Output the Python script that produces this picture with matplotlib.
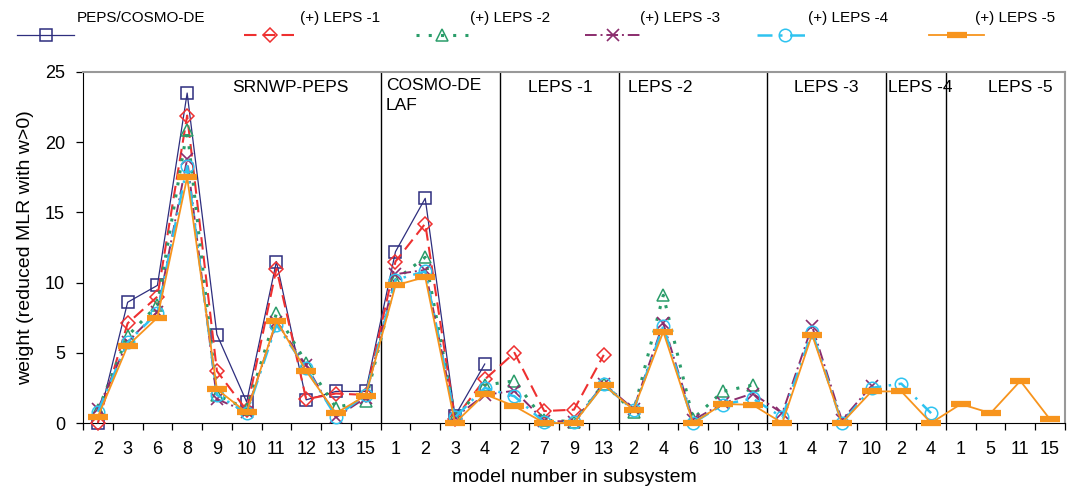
import numpy as np
import matplotlib
matplotlib.use("Agg")
import matplotlib.pyplot as plt
from matplotlib.lines import Line2D

plt.rcParams["font.family"] = ["Liberation Sans", "DejaVu Sans"]

nan = np.nan

# model numbers along the x axis, grouped by subsystem
modelos = ["2", "3", "6", "8", "9", "10", "11", "12", "13", "15",
           "1", "2", "3", "4",
           "2", "7", "9", "13",
           "2", "4", "6", "10", "13",
           "1", "4", "7", "10",
           "2", "4",
           "1", "5", "11", "15"]

grupos = ["SRNWP-PEPS", "COSMO-DE\nLAF", "LEPS -1", "LEPS -2", "LEPS -3", "LEPS -4", "LEPS -5"]
tam_grupos = [10, 4, 4, 5, 4, 2, 4]

peps = [0.0, 8.6, 9.8, 23.5, 6.3, 1.5, 11.5, 1.65, 2.25, 2.25,
        12.2, 16.0, 0.5, 4.2] + [nan] * 19
leps1 = [0.0, 7.1, 9.0, 21.9, 3.7, 0.9, 11.0, 1.7, 2.1, 2.0,
         11.5, 14.2, 0.3, 3.1,
         5.0, 0.85, 0.95, 4.85] + [nan] * 15
leps2 = [0.9, 6.2, 8.4, 20.9, 2.0, 1.0, 7.8, 4.3, 1.1, 1.6,
         10.2, 11.8, 0.4, 2.7,
         3.0, 0.2, 0.1, 2.8,
         0.8, 9.1, 0.3, 2.25, 2.7] + [nan] * 10
leps3 = [1.0, 5.8, 7.9, 18.8, 1.7, 0.8, 7.2, 4.1, 0.4, 1.8,
         10.6, 10.9, 0.4, 2.0,
         2.3, 0.15, 0.1, 2.8,
         1.0, 7.1, 0.2, 1.4, 2.1,
         0.7, 6.9, 0.2, 2.65] + [nan] * 6
leps4 = [0.8, 5.75, 7.85, 18.3, 2.0, 0.7, 7.0, 3.9, 0.45, 2.0,
         10.2, 10.8, 0.4, 2.5,
         1.9, 0.05, 0.05, 2.75,
         0.9, 6.9, 0.0, 1.3, 1.75,
         0.4, 6.5, 0.0, 2.5,
         2.8, 0.7] + [nan] * 4
leps5 = [0.45, 5.5, 7.5, 17.5, 2.4, 0.75, 7.3, 3.7, 0.7, 1.95,
         9.8, 10.4, 0.0, 2.05,
         1.2, 0.0, 0.0, 2.7,
         0.95, 6.5, 0.0, 1.35, 1.3,
         0.0, 6.3, 0.0, 2.25,
         2.25, 0.0,
         1.35, 0.7, 3.0, 0.25]

series = [
    ("PEPS/COSMO-DE", peps, dict(color="#2E2E7E", ls="-", lw=0.9, marker="s", ms=9, mfc="none", mew=1.1)),
    ("(+) LEPS -1", leps1, dict(color="#EE3030", ls=(0, (6, 3)), lw=1.5, marker="D", ms=7, mfc="none", mew=1.1)),
    ("(+) LEPS -2", leps2, dict(color="#2A9D6A", ls=(0, (1, 3)), lw=2.2, marker="^", ms=9, mfc="none", mew=1.1)),
    ("(+) LEPS -3", leps3, dict(color="#8B2D6E", ls=(0, (6, 2, 1, 2)), lw=1.4, marker="x", ms=9, mew=1.2)),
    ("(+) LEPS -4", leps4, dict(color="#2EC3F0", ls=(0, (6, 3, 1, 3)), lw=1.8, marker="o", ms=9, mfc="none", mew=1.1)),
    ("(+) LEPS -5", leps5, dict(color="#F7941D", ls="-", lw=1.3, marker="_", ms=14, mew=4.5)),
]

fig = plt.figure(figsize=(10.67, 4.92), dpi=100)
ax = fig.add_axes([83 / 1067, 1 - 423 / 492, (1065 - 83) / 1067, (423 - 72) / 492])

x = np.arange(len(modelos))
for nome, vals, estilo in series:
    ax.plot(x, vals, clip_on=False, zorder=3, **estilo)

# separators between subsystems
limites = np.cumsum(tam_grupos)[:-1] - 0.5
for b in limites:
    ax.axvline(b, color="black", lw=1.0, zorder=2)

# subsystem names (left edge in data units)
pos_grupos = [(4.5, 23.9), (9.67, 24.55), (14.45, 23.9), (17.8, 23.9),
              (23.4, 23.9), (26.55, 23.9), (29.9, 23.9)]
for nome, (gx, gy) in zip(grupos, pos_grupos):
    ax.text(gx, gy, nome, ha="left", va="top" if "\n" in nome else "center",
            fontsize=12.5, linespacing=1.35)

ax.set_xlim(-0.5, len(modelos) - 0.5)
ax.set_ylim(0, 25)
ax.set_yticks(range(0, 26, 5))
ax.set_xticks(x)
ax.set_xticklabels(modelos)
ax.set_xticks(np.arange(-0.5, len(modelos), 1), minor=True)
ax.tick_params(axis="x", which="major", length=0, pad=13, labelsize=13)
ax.tick_params(axis="x", which="minor", length=5, direction="out", width=0.9)
ax.tick_params(axis="y", length=5, direction="out", width=0.9, pad=8, labelsize=13)

ax.spines["top"].set_color("#999999")
ax.spines["right"].set_color("#999999")
ax.spines["top"].set_linewidth(1.5)
ax.spines["right"].set_linewidth(1.5)

ax.set_xlabel("model number in subsystem", fontsize=14, labelpad=8)
ax.set_ylabel("weight (reduced MLR with w>0)", fontsize=14, labelpad=8)

# legend drawn by hand: handle below-left, text above-right
leg_pos = [(17, 74, 77), (244, 296, 300), (416, 468, 470),
           (585, 640, 640), (757, 812, 808), (929, 984, 975)]
for (nome, vals, estilo), (x0, x1, xt) in zip(series, leg_pos):
    yh = 1 - 35 / 492
    fig.add_artist(Line2D([x0 / 1067, x1 / 1067], [yh, yh], transform=fig.transFigure,
                          color=estilo["color"], ls=estilo["ls"], lw=estilo["lw"]))
    mk = {k: v for k, v in estilo.items() if k not in ("ls", "lw")}
    fig.add_artist(Line2D([(x0 + x1) / 2 / 1067], [yh], transform=fig.transFigure, ls="none", **mk))
    fig.text(xt / 1067, 1 - 18 / 492, nome, ha="left", va="center", fontsize=11)

fig.savefig("out.png", dpi=100)
plt.close(fig)
